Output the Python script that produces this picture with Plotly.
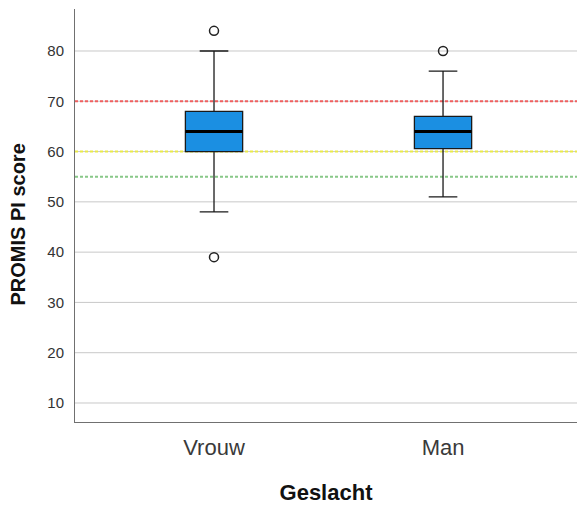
import plotly.graph_objects as go

categories = ["Vrouw", "Man"]
q1 = [60, 60.6]
median = [64, 64]
q3 = [68, 67]
lower_whisker = [48, 51]
upper_whisker = [80, 76]
outliers_vrouw = [84, 39]
outliers_man = [80]
ref_lines = [70, 60, 55]
ref_colors = ["#f06060", "#eaea4a", "#88c888"]
y_ticks = [10, 20, 30, 40, 50, 60, 70, 80]

pos = list(range(len(categories)))
box_w = 0.25

fig = go.Figure()

# grid lines
for t in y_ticks:
    fig.add_shape(type="line", xref="paper", x0=0, x1=1, y0=t, y1=t,
                  line=dict(color="#c8c8c8", width=1), layer="below")

# reference lines
for v, c in zip(ref_lines, ref_colors):
    fig.add_shape(type="line", xref="paper", x0=0, x1=1, y0=v, y1=v,
                  line=dict(color=c, width=2, dash="3px,2px"), layer="below")

fig.add_trace(go.Box(
    x=pos, q1=q1, median=median, q3=q3,
    lowerfence=lower_whisker, upperfence=upper_whisker,
    width=box_w, whiskerwidth=0.5,
    fillcolor="#1b8fe2", line=dict(color="#1a1a1a", width=1.3),
    boxpoints=False, hoverinfo="skip", showlegend=False,
))

# thick median lines
for p, m in zip(pos, median):
    fig.add_trace(go.Scatter(x=[p - box_w / 2, p + box_w / 2], y=[m, m], mode="lines",
                             line=dict(color="#000000", width=3), showlegend=False,
                             hoverinfo="skip"))

out_x = [pos[0]] * len(outliers_vrouw) + [pos[1]] * len(outliers_man)
out_y = outliers_vrouw + outliers_man
fig.add_trace(go.Scatter(x=out_x, y=out_y, mode="markers",
                         marker=dict(symbol="circle-open", size=9,
                                     line=dict(color="#222222", width=1.5), color="#222222"),
                         showlegend=False, hoverinfo="skip"))

fig.update_layout(
    width=577, height=508,
    margin=dict(l=75, r=0, t=9, b=86),
    plot_bgcolor="white", paper_bgcolor="white",
    font=dict(family="Arial, Liberation Sans, sans-serif", color="#222222"),
)
fig.add_annotation(
    text="<b>PROMIS PI score</b>", xref="paper", yref="paper",
    x=-0.1145, y=0.477, xanchor="center", yanchor="middle", textangle=-90,
    showarrow=False, font=dict(size=20, color="#111111"),
)
fig.update_xaxes(
    range=[-0.607, 1.585], tickvals=pos, ticktext=categories,
    tickfont=dict(size=22, color="#3a3a3a"),
    showgrid=False, zeroline=False,
    showline=True, linecolor="#707070", linewidth=1,
    ticks="", ticklabelstandoff=6,
    title=dict(text="<b>Geslacht</b>", font=dict(size=22, color="#111111"), standoff=25),
)
fig.update_yaxes(
    range=[6.22, 88.35], tickvals=y_ticks,
    tickfont=dict(size=15, color="#333333"),
    showgrid=False, zeroline=False,
    showline=True, linecolor="#707070", linewidth=1,
    ticks="", ticklabelstandoff=7,
)

fig.write_html("out.html")
